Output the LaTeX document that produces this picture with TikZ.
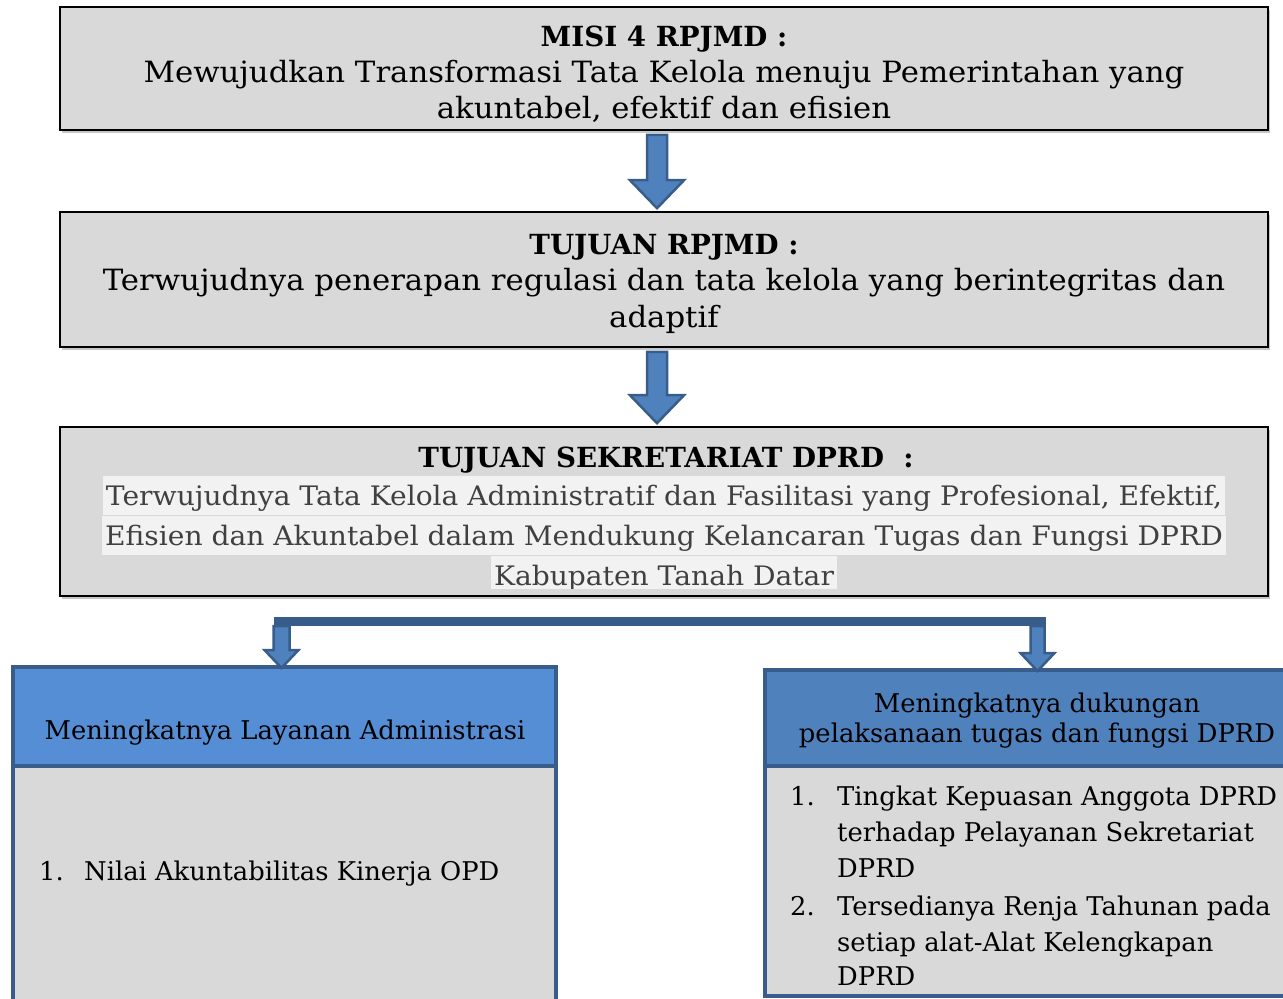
\documentclass[tikz,border=0pt]{standalone}
\usepackage{fontspec}
\setmainfont{DejaVu Serif}
\newfontfamily\wideserif[FakeStretch=1.05]{DejaVu Serif}
\usepackage{tikz}
\usetikzlibrary{calc,shadows}
\definecolor{boxgray}{HTML}{D9D9D9}
\definecolor{hilite}{HTML}{F2F2F2}
\definecolor{arrowblue}{HTML}{4F81BD}
\definecolor{edgeblue}{HTML}{385D8A}
\definecolor{headblue}{HTML}{558ED5}
\definecolor{darktext}{HTML}{404040}
\newcommand{\blockdown}[5]{%
  \draw[blockarrow] ($(#1)+(-#3,0)$) -- ($(#2)+(-#3,-#5)$) -- ($(#2)+(-#4,-#5)$) -- (#2)
    -- ($(#2)+(#4,-#5)$) -- ($(#2)+(#3,-#5)$) -- ($(#1)+(#3,0)$) -- cycle;}

\begin{document}
\begin{tikzpicture}[x=1pt,y=-1pt,
  graybox/.style={draw=black,line width=1.6pt,fill=boxgray,
    drop shadow={shadow xshift=2pt,shadow yshift=-2.5pt,opacity=.45}},
  blockarrow/.style={draw=edgeblue,line width=2.5pt,fill=arrowblue,miter limit=4},
  headbox/.style={draw=edgeblue,line width=4pt,outer sep=0pt},
  bodybox/.style={draw=edgeblue,line width=4pt,fill=boxgray,outer sep=0pt},
  head/.style={anchor=base,inner sep=0pt,font=\bfseries\fontsize{27.7}{32}\selectfont},
  line/.style={anchor=base,inner sep=0pt,font=\wideserif\fontsize{29.3}{36}\selectfont},
  hl/.style={anchor=base,fill=hilite,inner xsep=3pt,inner ysep=2pt,text=darktext,
    text depth=8pt,text height=27pt,font=\wideserif\fontsize{26.8}{36}\selectfont},
  item/.style={anchor=base west,inner sep=0pt,font=\fontsize{25.8}{36.5}\selectfont}]
\useasboundingbox (0,0) rectangle (1283,999);
\clip (0,0) rectangle (1283,999);

\node[graybox,minimum width=1208pt,minimum height=123pt] (misi) at (664,68.5) {};
\node[head] (misi-h) at (664,46) {MISI 4 RPJMD :};
\foreach \t/\y [count=\i] in {{Mewujudkan Transformasi Tata Kelola menuju Pemerintahan yang}/82,
  {akuntabel, efektif dan efisien}/118}
  \node[line] (misi-\i) at (664,\y) {\t};

\node[graybox,minimum width=1208pt,minimum height=135pt] (rpjmd) at (664,279.5) {};
\node[head] (rpjmd-h) at (664,254) {TUJUAN RPJMD :};
\foreach \t/\y [count=\i] in {{Terwujudnya penerapan regulasi dan tata kelola yang berintegritas dan}/290,
  {adaptif}/327}
  \node[line] (rpjmd-\i) at (664,\y) {\t};

\node[graybox,minimum width=1208pt,minimum height=169pt] (sekretariat) at (664,511.5) {};
\node[head] (sekretariat-h) at (666,467) {TUJUAN SEKRETARIAT DPRD\ \ :};
\begin{scope}
  \clip (61,428) rectangle (1267,588);
  \foreach \t/\y [count=\i] in {{Terwujudnya Tata Kelola Administratif dan Fasilitasi yang Profesional, Efektif,}/505,
    {Efisien dan Akuntabel dalam Mendukung Kelancaran Tugas dan Fungsi DPRD}/545,
    {Kabupaten Tanah Datar}/585}
    \node[hl] (sekretariat-\i) at (664,\y) {\t};
\end{scope}

\coordinate (a1) at ([xshift=-7pt,yshift=-4pt]misi.south);
\coordinate (b1) at ([xshift=-7pt,yshift=3pt]rpjmd.north);
\blockdown{a1}{b1}{10}{27}{28}
\coordinate (a2) at ([xshift=-7pt,yshift=-4pt]rpjmd.south);
\coordinate (b2) at ([xshift=-7pt,yshift=3pt]sekretariat.north);
\blockdown{a2}{b2}{10}{27}{28}

\node[headbox,fill=headblue,minimum width=543pt,minimum height=99pt] (layanan) at (284.5,716.5) {};
\node[bodybox,minimum width=543pt,minimum height=260pt,anchor=north] (layanan-isi) at (layanan.south) {};
\node[headbox,fill=arrowblue,minimum width=545pt,minimum height=96pt] (dukungan) at (1037.5,718) {};
\node[bodybox,minimum width=545pt,minimum height=230pt,anchor=north] (dukungan-isi) at (dukungan.south) {};

\node[item,anchor=base] (layanan-t) at (285,739) {Meningkatnya Layanan Administrasi};
\node[item,anchor=base] (dukungan-t1) at (1037,712) {Meningkatnya dukungan};
\node[item,anchor=base] (dukungan-t2) at (1037,742) {pelaksanaan tugas dan fungsi DPRD};

\node[item] (layanan-n) at (39,880) {1.};
\node[item] (layanan-1) at (84,880) {Nilai Akuntabilitas Kinerja OPD};
\foreach \t/\y [count=\i] in {{1.}/805,{2.}/915}
  \node[item] (dukungan-n\i) at (790,\y) {\t};
\foreach \t/\y [count=\i] in {{Tingkat Kepuasan Anggota DPRD}/805,{terhadap Pelayanan Sekretariat}/841,
  {DPRD}/877,{Tersedianya Renja Tahunan pada}/915,{setiap alat-Alat Kelengkapan}/951,{DPRD}/985}
  \node[item] (dukungan-\i) at (837,\y) {\t};

\coordinate (barL) at ([xshift=-11pt]layanan.north |- 0,617);
\coordinate (barR) at ([xshift=8pt]dukungan.north |- 0,626);
\fill[edgeblue] (barL) rectangle (barR);
\coordinate (c1) at ([xshift=-3pt]layanan.north |- 0,626);
\coordinate (d1) at ([xshift=-3pt,yshift=-1pt]layanan.north);
\blockdown{c1}{d1}{8}{17}{18}
\coordinate (c2) at (dukungan.north |- 0,626);
\coordinate (d2) at ([yshift=-1pt]dukungan.north);
\blockdown{c2}{d2}{7}{17}{18}
\end{tikzpicture}
\end{document}
